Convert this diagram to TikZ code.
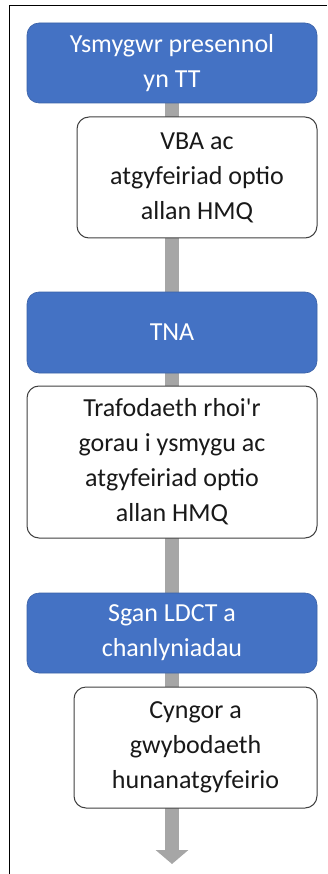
\documentclass[tikz,border=0pt]{standalone}
\usepackage{fontspec}
\setmainfont{Carlito}
\usetikzlibrary{arrows.meta,backgrounds}
\definecolor{stepblue}{HTML}{4472C4}
\definecolor{bargrey}{HTML}{A6A6A6}
\begin{document}
\begin{tikzpicture}[x=1pt,y=-1pt]
	\tikzstyle{every node}=[rounded corners=12pt,align=center,inner sep=0pt,font=\fontsize{26}{35}\selectfont]
	\tikzstyle{bluebox}=[fill=stepblue,draw=stepblue!85!black,line width=0.6pt,text=white]
	\tikzstyle{whitebox}=[fill=white,draw=black!75,line width=1pt,text=black!90]
	\useasboundingbox (0,0) rectangle (327,874);
	\draw[line width=1.5pt] (327,5.5) -- (9.5,5.5) -- (9.5,874);
	\node[bluebox,minimum width=290,minimum height=80] (smoker) at (172,63) {Ysmygwr presennol\\yn TT};
	\node[whitebox,minimum width=240,minimum height=121] (vba) at (197,177.5) {VBA ac\\atgyfeiriad optio\\allan HMQ};
	\node[bluebox,minimum width=290,minimum height=81] (tna) at (172,332.5) {TNA};
	\node[whitebox,minimum width=290,minimum height=152] (talk) at (172,462) {Trafodaeth rhoi\textquotesingle r\\gorau i ysmygu ac\\atgyfeiriad optio\\allan HMQ};
	\node[bluebox,minimum width=290,minimum height=80] (scan) at (172,633) {Sgan LDCT a\\chanlyniadau};
	\node[whitebox,minimum width=243,minimum height=121] (advice) at (195.5,747.5) {Cyngor a\\gwybodaeth\\hunanatgyfeirio};
	\coordinate (tip) at (172,864);
	\begin{pgfonlayer}{background}
		\draw[line width=14pt,draw=bargrey,-{Triangle[width=32pt,length=14pt,fill=bargrey]}] (smoker.south) -- (tip);
	\end{pgfonlayer}
\end{tikzpicture}
\end{document}
